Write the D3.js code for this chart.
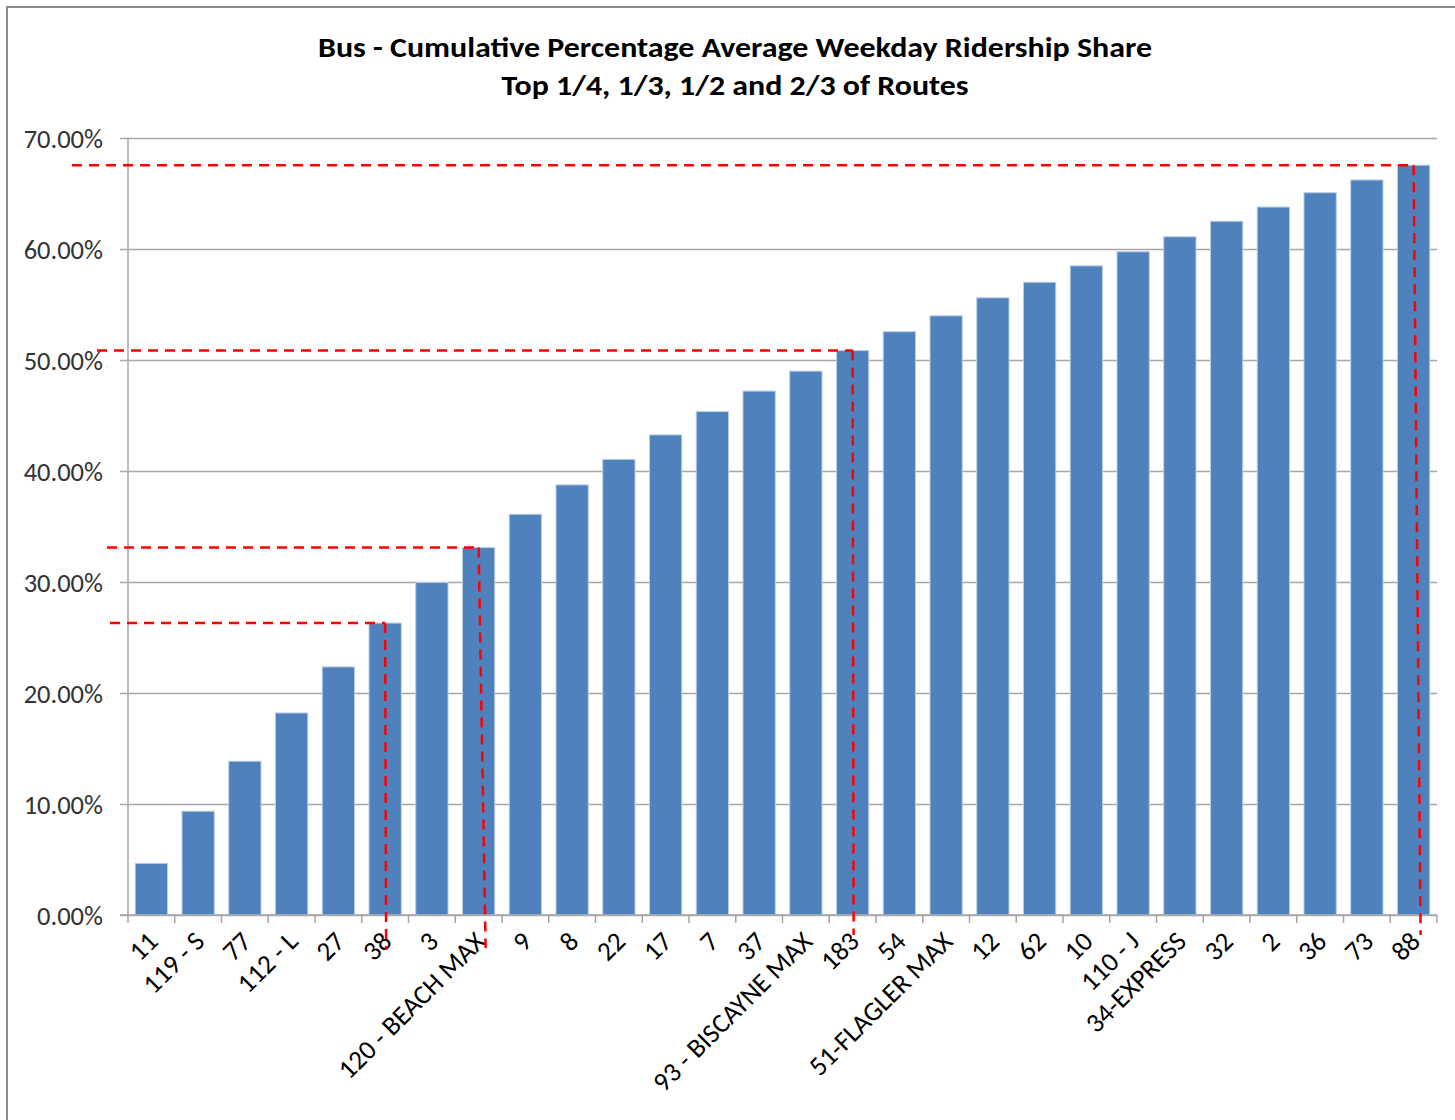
<!DOCTYPE html>
<html>
<head>
<meta charset="utf-8">
<script src="https://cdn.jsdelivr.net/npm/d3@7"></script>
<style>
  html, body { margin: 0; padding: 0; background: #fff; }
  svg { display: block; }
</style>
</head>
<body>
<svg id="chart"></svg>
<script>
// routes in order of cumulative ridership share
var routes = ["11", "119 - S", "77", "112 - L", "27", "38", "3", "120 - BEACH MAX",
  "9", "8", "22", "17", "7", "37", "93 - BISCAYNE MAX", "183", "54", "51-FLAGLER MAX",
  "12", "62", "10", "110 - J", "34-EXPRESS", "32", "2", "36", "73", "88"];

// cumulative percentage of average weekday ridership
var cumShare = [4.65, 9.35, 13.85, 18.2, 22.35, 26.3, 29.95, 33.1,
  36.1, 38.75, 41.05, 43.25, 45.35, 47.2, 49.0, 50.85, 52.55, 53.98,
  55.6, 57.0, 58.48, 59.75, 61.1, 62.5, 63.78, 65.07, 66.22, 67.55];

// y tick values
var yTicks = [0, 10, 20, 30, 40, 50, 60, 70];

// routes marking top 1/4, 1/3, 1/2 and 2/3
var cutRoutes = ["38", "120 - BEACH MAX", "183", "88"];

var titleLines = ["Bus - Cumulative Percentage Average Weekday Ridership Share",
  "Top 1/4, 1/3, 1/2 and 2/3 of Routes"];

var width = 1455, height = 1120;
var margin = {left: 128, right: 18, top: 138, bottom: 205};
var font = "Carlito, Calibri, Lato, 'Open Sans', sans-serif";

var svg = d3.select("#chart").attr("width", width).attr("height", height);

// outer frame
svg.append("rect")
  .attr("x", 7).attr("y", 7)
  .attr("width", width + 20).attr("height", height + 20)
  .attr("fill", "#fff").attr("stroke", "#8c8c8c").attr("stroke-width", 2);

var x = d3.scaleBand().domain(routes)
  .range([margin.left, width - margin.right])
  .paddingInner(0.31).paddingOuter(0.155);
var xEdge = d3.scaleLinear().domain([0, routes.length])
  .range([margin.left, width - margin.right]);
var y = d3.scaleLinear().domain([0, 70])
  .range([height - margin.bottom, margin.top]);

// gridlines + y axis
var yAxis = d3.axisLeft(y).tickValues(yTicks)
  .tickSize(-(width - margin.right - margin.left))
  .tickFormat(function(d) { return d3.format(".2f")(d) + "%"; })
  .tickPadding(25);
var gy = svg.append("g").attr("transform", "translate(" + margin.left + ",0)").call(yAxis);
gy.select(".domain").remove();
gy.selectAll(".tick line").attr("stroke", "#a6a6a6").attr("stroke-width", 1.5)
  .attr("x1", -8);
gy.selectAll(".tick text").attr("font-family", font).attr("font-size", 26.5)
  .attr("fill", "#333").attr("dy", "0.36em");
svg.append("line")
  .attr("x1", margin.left).attr("x2", margin.left)
  .attr("y1", y(70)).attr("y2", y(0))
  .attr("stroke", "#a6a6a6").attr("stroke-width", 1.5);

// bars
svg.append("g").selectAll("rect").data(routes).join("rect")
  .attr("x", function(d) { return x(d); })
  .attr("y", function(d, i) { return y(cumShare[i]); })
  .attr("width", x.bandwidth())
  .attr("height", function(d, i) { return y(0) - y(cumShare[i]); })
  .attr("fill", "#4f81bd")
  .attr("stroke", "#b9cde5").attr("stroke-width", 1);

// x axis line + ticks at category boundaries
svg.append("line")
  .attr("x1", margin.left - 8).attr("x2", width - margin.right)
  .attr("y1", y(0)).attr("y2", y(0))
  .attr("stroke", "#a6a6a6").attr("stroke-width", 1.5);
svg.append("g").selectAll("line").data(d3.range(routes.length + 1)).join("line")
  .attr("x1", function(d) { return xEdge(d); })
  .attr("x2", function(d) { return xEdge(d); })
  .attr("y1", y(0)).attr("y2", y(0) + 8)
  .attr("stroke", "#a6a6a6").attr("stroke-width", 1.5);

// rotated route labels
svg.append("g").selectAll("text").data(routes).join("text")
  .attr("transform", function(d) {
    return "translate(" + (x(d) + x.bandwidth() / 2 + 8) + "," + (y(0) + 28) + ") rotate(-45)";
  })
  .attr("text-anchor", "end")
  .attr("font-family", font).attr("font-size", 27).attr("fill", "#000")
  .text(function(d) { return d; });

// red dashed cut-off markers
var overhang = [18, 21, 31, 56];
var drop = [35, 33, 20, 20];
var lean = [1, 7, 1, 7];
var marks = svg.append("g").attr("stroke", "#ff0000").attr("stroke-width", 2.5)
  .attr("stroke-dasharray", "10,7").attr("fill", "none");
cutRoutes.forEach(function(r, k) {
  var i = routes.indexOf(r);
  var cx = x(r) + x.bandwidth() / 2;
  var cy = y(cumShare[i]);
  marks.append("line")
    .attr("x1", margin.left - overhang[k]).attr("x2", cx)
    .attr("y1", cy).attr("y2", cy);
  marks.append("line")
    .attr("x1", cx).attr("x2", cx + lean[k])
    .attr("y1", cy).attr("y2", y(0) + drop[k]);
});

// title, stretched to the width of the original lettering
var titleWidths = [834, 467];
svg.append("g").selectAll("text").data(titleLines).join("text")
  .attr("x", 735).attr("y", function(d, i) { return 57 + i * 38; })
  .attr("text-anchor", "middle")
  .attr("font-family", font).attr("font-size", 29).attr("font-weight", "bold")
  .attr("fill", "#000")
  .attr("textLength", function(d, i) { return titleWidths[i]; })
  .attr("lengthAdjust", "spacingAndGlyphs")
  .text(function(d) { return d; });
</script>
</body>
</html>
